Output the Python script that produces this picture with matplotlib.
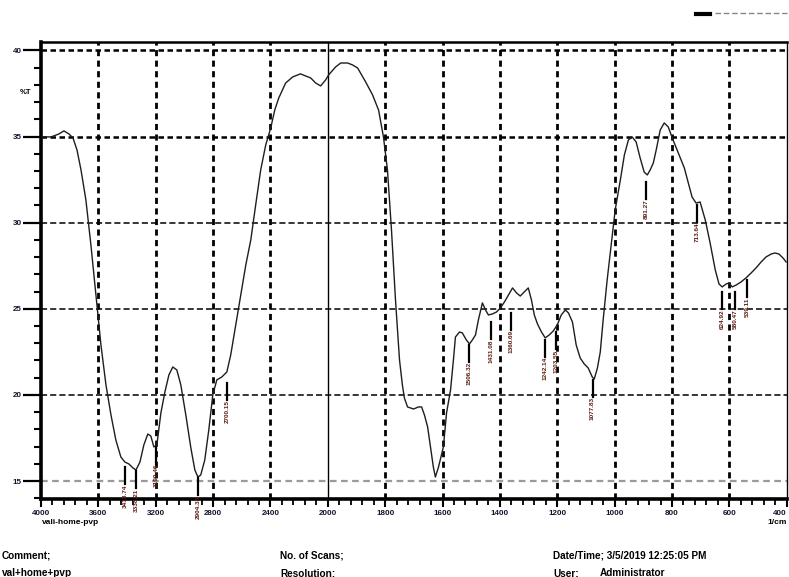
import numpy as np
import matplotlib.pyplot as plt
from matplotlib.lines import Line2D

plt.rcParams['font.family'] = ['Liberation Sans', 'DejaVu Sans']

# ---- spectrum trace (1/cm, %T) ----
wavenumber = [3993, 3930, 3875, 3840, 3805, 3777, 3749, 3721, 3687, 3652,
              3617, 3582, 3547, 3512, 3478, 3443, 3415, 3387, 3359, 3338,
              3310, 3283, 3255, 3234, 3213, 3192, 3164, 3136, 3108, 3081,
              3053, 3025, 2990, 2955, 2927, 2906, 2886, 2858, 2830, 2802,
              2774, 2739, 2704, 2677, 2642, 2607, 2572, 2537, 2503, 2468,
              2433, 2398, 2370, 2342, 2294, 2245, 2191, 2119, 2085, 2050,
              2015, 1997, 1973, 1955, 1931, 1914, 1896, 1868, 1844, 1823,
              1806, 1792, 1778, 1764, 1750, 1740, 1733, 1722, 1701, 1684,
              1673, 1663, 1652, 1642, 1632, 1625, 1614, 1597, 1586, 1572,
              1562, 1555, 1541, 1531, 1517, 1506, 1496, 1485, 1475, 1461,
              1450, 1440, 1426, 1412, 1398, 1384, 1370, 1356, 1342, 1329,
              1315, 1301, 1290, 1280, 1269, 1255, 1242, 1228, 1214, 1200,
              1186, 1172, 1161, 1147, 1134, 1120, 1106, 1092, 1078, 1071,
              1060, 1050, 1040, 1026, 1012, 998, 980, 966, 952, 939,
              925, 911, 897, 886, 876, 865, 855, 841, 827, 813,
              799, 785, 771, 757, 743, 730, 716, 702, 684, 667,
              649, 636, 625, 611, 601, 590, 576, 559, 542, 524,
              507, 489, 472, 454, 441, 427, 413, 402]
transmittance = [34.98, 34.98, 35.15, 35.33, 35.15, 34.92, 34.22, 33.06, 31.32, 28.71,
                 25.80, 22.90, 20.58, 18.83, 17.38, 16.39, 16.10, 15.99, 15.76, 15.64,
                 16.10, 17.09, 17.73, 17.61, 16.98, 17.09, 18.95, 20.17, 21.16, 21.62,
                 21.45, 20.58, 18.83, 16.92, 15.64, 15.23, 15.35, 16.22, 17.96, 20.00,
                 20.87, 21.04, 21.33, 22.32, 24.06, 25.80, 27.54, 29.00, 31.03, 33.06,
                 34.51, 35.50, 36.54, 37.24, 38.11, 38.46, 38.64, 38.40, 38.11, 37.94,
                 38.29, 38.58, 39.04, 39.27, 39.27, 39.16, 38.98, 38.17, 37.42, 36.54,
                 34.98, 33.06, 29.58, 25.51, 22.03, 20.58, 19.82, 19.30, 19.18, 19.30,
                 19.30, 18.83, 18.14, 16.98, 15.81, 15.23, 15.81, 16.98, 18.95, 20.29,
                 22.03, 23.36, 23.65, 23.60, 23.19, 22.96, 23.19, 23.48, 24.35, 25.34,
                 24.93, 24.64, 24.70, 24.81, 25.05, 25.40, 25.80, 26.21, 25.92, 25.74,
                 25.98, 26.21, 25.51, 24.64, 24.12, 23.65, 23.31, 23.48, 23.71, 24.06,
                 24.64, 24.93, 24.76, 24.23, 22.90, 22.14, 21.80, 21.56, 21.04, 20.92,
                 21.56, 22.49, 24.35, 26.67, 28.71, 30.74, 32.48, 33.93, 34.80, 34.98,
                 34.69, 33.76, 32.94, 32.77, 33.06, 33.47, 34.22, 35.38, 35.79, 35.56,
                 34.92, 34.34, 33.76, 33.18, 32.31, 31.49, 31.14, 31.20, 30.16, 28.82,
                 27.25, 26.44, 26.27, 26.44, 26.50, 26.27, 26.38, 26.56, 26.79, 27.08,
                 27.37, 27.72, 28.01, 28.18, 28.24, 28.18, 27.95, 27.72]

# ---- peak picks: position, where the marker starts, printed label ----
peak_pos = [3413, 3338, 3199, 2904, 2700, 1506, 1431, 1360, 1242, 1203,
            1077, 891, 713, 624, 580, 539]
peak_top = [15.81, 15.58, 16.98, 15.17, 20.69, 22.90, 24.23, 24.76, 23.19, 23.65,
            20.87, 32.36, 31.03, 25.98, 25.98, 26.67]
peak_text = ['3413.74', '3338.21', '3199.46', '2904.38', '2700.15', '1506.32',
             '1431.08', '1360.69', '1242.14', '1203.55', '1077.83', '891.27',
             '713.64', '624.92', '580.47', '539.11']

x_major = [4000, 3600, 3200, 2800, 2400, 2000, 1800, 1600, 1400, 1200, 1000, 800, 600, 400]
y_major = [15, 20, 25, 30, 35, 40]


# spectrometer axis: 400 1/cm per division above 2000, 200 below
def fwd(w):
    w = np.asarray(w, dtype=float)
    return np.where(w >= 2000, w / 400.0, 5.0 + (w - 2000.0) / 200.0)


def inv(p):
    p = np.asarray(p, dtype=float)
    return np.where(p >= 5, p * 400.0, 2000.0 + (p - 5.0) * 200.0)


fig = plt.figure(figsize=(7.89, 5.77), dpi=100)
ax = fig.add_axes([41 / 789, 78 / 577, 745.7 / 789, 457 / 577])
ax.set_xscale('function', functions=(fwd, inv))
ax.set_xlim(4000, 400)
ax.set_ylim(13.955, 40.49)

# grid, drawn the way the instrument printout does it
for w in x_major[1:-1]:
    if w == 2000:
        ax.axvline(w, color='black', lw=1.0, zorder=1)
    else:
        ax.axvline(w, color='black', lw=2.0, ls=(0, (2.2, 1.6)), zorder=1)
for v in y_major:
    if v == 15:
        ax.axhline(v, color='#9a9a9a', lw=1.6, ls=(0, (3, 2)), zorder=1)
    elif v in (35, 40):
        ax.axhline(v, color='black', lw=1.8, ls=(0, (2.2, 1.4)), zorder=1)
    else:
        ax.axhline(v, color='black', lw=1.1, ls=(0, (4, 2)), zorder=1)

ax.plot(wavenumber, transmittance, color='#1e1e1e', lw=1.0, zorder=3)

# peak markers with their tiny rotated labels
for w, top, txt in zip(peak_pos, peak_top, peak_text):
    ax.plot([w, w], [top, top - 1.0], color='black', lw=1.6, zorder=4)
    ax.text(w, top - 1.0, txt, rotation=90, ha='center', va='top',
            fontsize=4.6, fontweight='bold', color='#5c1c12', zorder=4)

# ticks
ax.set_xticks(x_major)
ax.set_xticklabels([str(w) for w in x_major])
minor_x = []
for a, b in zip(x_major[:-1], x_major[1:]):
    minor_x += list(np.linspace(a, b, 6)[1:-1])
ax.set_xticks(minor_x, minor=True)
ax.set_yticks(y_major)
ax.set_yticks(np.arange(14, 41, 1), minor=True)
ax.tick_params(axis='x', which='major', length=6, width=1.5, pad=2,
               labelsize=5.8, colors='black')
ax.tick_params(axis='x', which='minor', length=4, width=1.3)
ax.tick_params(axis='y', which='major', length=13, width=1.6, pad=1,
               labelsize=5.8)
ax.tick_params(axis='y', which='minor', length=5, width=1.5)
for lab in ax.get_xticklabels() + ax.get_yticklabels():
    lab.set_fontweight('bold')
    lab.set_color('#14142e')
# the last wavenumber label sits at the paper edge
ax.get_xticklabels()[-1].set_horizontalalignment('right')

for side, lw in (('left', 2.6), ('bottom', 2.6), ('top', 1.8), ('right', 1.0)):
    ax.spines[side].set_linewidth(lw)

# printout annotations
fs = 7.2
fig.text(20 / 789, 1 - 93 / 577, '%T', fontsize=5.5, fontweight='bold', va='center')
fig.text(42 / 789, 1 - 522 / 577, 'vali-home-pvp', fontsize=6, fontweight='bold', va='center')
fig.text(787 / 789, 1 - 522 / 577, '1/cm', fontsize=6, fontweight='bold', va='center', ha='right')
fig.text(2 / 789, 1 - 555 / 577, 'Comment;', fontsize=fs, fontweight='bold', va='center')
fig.text(2 / 789, 1 - 573 / 577, 'val+home+pvp', fontsize=fs, fontweight='bold', va='center')
fig.text(280 / 789, 1 - 555 / 577, 'No. of Scans;', fontsize=fs, fontweight='bold', va='center')
fig.text(280 / 789, 1 - 573 / 577, 'Resolution;', fontsize=fs, fontweight='bold', va='center')
fig.text(553 / 789, 1 - 555 / 577, 'Date/Time; 3/5/2019 12:25:05 PM', fontsize=fs,
         fontweight='bold', va='center')
fig.text(553 / 789, 1 - 573 / 577, 'User;', fontsize=fs, fontweight='bold', va='center')
fig.text(600 / 789, 1 - 573 / 577, 'Administrator', fontsize=fs, fontweight='bold', va='center')

# legend stub in the top right corner
fig.add_artist(Line2D([696 / 789, 710 / 789], [1 - 14 / 577] * 2, color='black', lw=3))
fig.add_artist(Line2D([715 / 789, 787 / 789], [1 - 13 / 577] * 2, color='#888888',
                      lw=1, ls=(0, (4, 2))))

fig.savefig('out.png', dpi=100)
